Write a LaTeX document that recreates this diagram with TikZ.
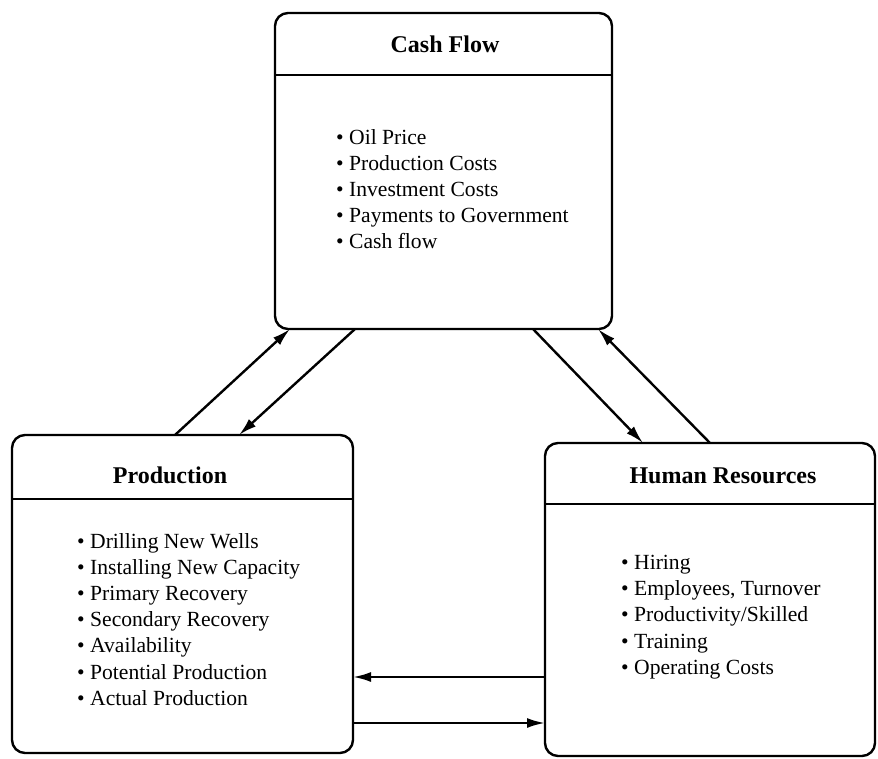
\documentclass[tikz,border=0pt]{standalone}
\usepackage{fontspec}
\setmainfont{Liberation Serif}
\usetikzlibrary{shapes,arrows.meta,positioning}
\tikzstyle{block} = [rectangle, draw, line width=2.4pt, rounded corners=13pt,
    inner sep=0pt, outer sep=0pt]
\tikzstyle{title} = [font=\fontsize{24}{29}\selectfont\bfseries, inner sep=0pt, anchor=base]
\tikzstyle{items} = [font=\fontsize{21.6}{26.2}\selectfont, align=left,
    inner sep=0pt, anchor=north west]
\tikzstyle{rule} = [draw, line width=2.2pt]
\tikzstyle{line} = [draw, line width=2.4pt, -{Latex[length=18pt,width=10pt]}]

\begin{document}
\begin{tikzpicture}[x=1pt, y=-1pt]
    \useasboundingbox (0,0) rectangle (878,759);
    % Place nodes
    \node [block, minimum width=337pt, minimum height=316pt] (cash) at (443.5,171) {};
    \node [block, minimum width=341pt, minimum height=318pt] (prod) at (182.5,594) {};
    \node [block, minimum width=330pt, minimum height=313pt] (hr) at (710,599.5) {};
    \path [rule] ([yshift=-62pt]cash.north west) -- ([yshift=-62pt]cash.north east);
    \path [rule] ([yshift=-64pt]prod.north west) -- ([yshift=-64pt]prod.north east);
    \path [rule] ([yshift=-61pt]hr.north west) -- ([yshift=-61pt]hr.north east);
    \node [title] (cashtitle) at (445,53) {Cash Flow};
    \node [title] (prodtitle) at (170,483) {Production};
    \node [title] (hrtitle) at (723,483) {Human Resources};
    \node [items] (cashlist) at (336,129) {• Oil Price\\ • Production Costs\\
        • Investment Costs\\ • Payments to Government\\ • Cash flow};
    \node [items] (prodlist) at (77,533) {• Drilling New Wells\\
        • Installing New Capacity\\ • Primary Recovery\\ • Secondary Recovery\\
        • Availability\\ • Potential Production\\ • Actual Production};
    \node [items] (hrlist) at (621,555) {• Hiring\\ • Employees, Turnover\\
        • Productivity/Skilled\\ • Training\\ • Operating Costs};
    % Draw edges
    \path [line] ([xshift=163pt]prod.north west) -- ([xshift=15pt]cash.south west);
    \path [line] ([xshift=80pt]cash.south west) -- ([xshift=227pt]prod.north west);
    \path [line] ([xshift=258pt]cash.south west) -- ([xshift=98pt]hr.north west);
    \path [line] ([xshift=165pt]hr.north west) -- ([xshift=323pt]cash.south west);
    \coordinate (hrout) at ([yshift=-77.5pt]hr.west);
    \coordinate (prodout) at ([yshift=-129pt]prod.east);
    \path [line] (hrout) -- (hrout -| prod.east);
    \path [line] (prodout) -- (prodout -| hr.west);
\end{tikzpicture}
\end{document}
